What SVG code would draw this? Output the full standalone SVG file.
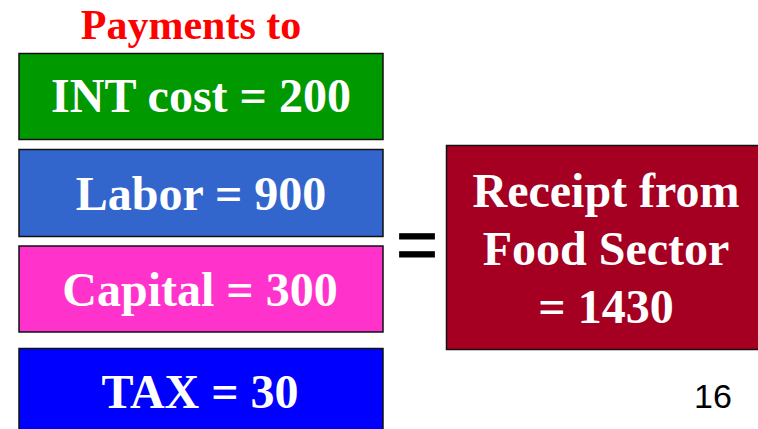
<svg xmlns="http://www.w3.org/2000/svg" width="758" height="429" viewBox="0 0 758 429">
<style>
.box{stroke:#111;stroke-width:1.5}
.t{font-family:"Liberation Serif","Times New Roman",serif;font-weight:bold;font-size:48px;fill:#fff;text-anchor:middle}
</style>
<rect width="758" height="429" fill="#fff"/>
<text x="191" y="38.5" font-family="Liberation Serif,serif" font-weight="bold" font-size="42" fill="#ff0000" text-anchor="middle">Payments to</text>
<g id="int"><rect class="box" x="19" y="53.5" width="364" height="86" fill="#009900"/><text class="t" x="201" y="112">INT cost = 200</text></g>
<g id="labor"><rect class="box" x="19" y="149.5" width="364" height="87" fill="#3366cc"/><text class="t" x="201" y="210">Labor = 900</text></g>
<g id="capital"><rect class="box" x="19" y="246" width="364" height="86" fill="#ff33cc"/><text class="t" x="200" y="306">Capital = 300</text></g>
<g id="tax"><rect class="box" x="19" y="348.5" width="364" height="95" fill="#0000ff"/><text class="t" x="200" y="408">TAX = 30</text></g>
<g id="eq"><text x="417" y="269" font-family="Liberation Sans,Arial,sans-serif" font-size="72" fill="#000" stroke="#000" stroke-width="0.8" text-anchor="middle">=</text></g>
<g id="receipt"><rect class="box" x="446.5" y="145.5" width="325" height="204" fill="#a50021"/>
<text class="t" x="606" y="207">Receipt from</text>
<text class="t" x="606" y="265">Food Sector</text>
<text class="t" x="606" y="323">= 1430</text></g>
<text x="713" y="408" font-family="Liberation Sans,Arial,sans-serif" font-size="34" fill="#000" text-anchor="middle">16</text>
<g id="connectors"/>
</svg>
